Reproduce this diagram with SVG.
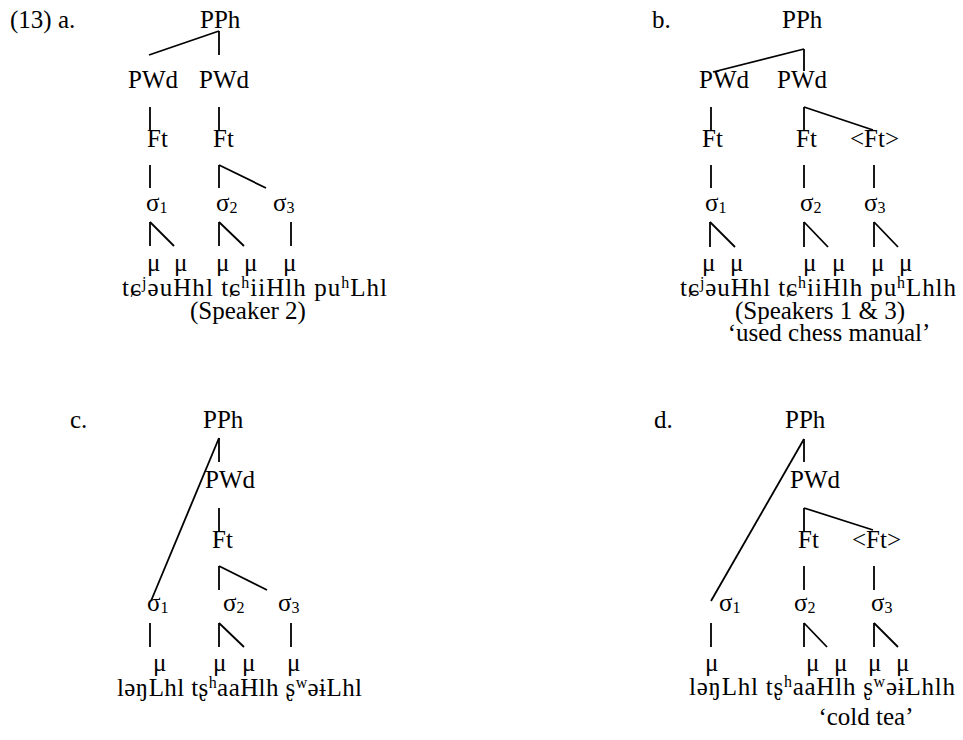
<svg xmlns="http://www.w3.org/2000/svg" width="963" height="740" viewBox="0 0 963 740">
<style>
text{font-family:"Liberation Serif","Times New Roman",serif;font-size:25px;fill:#000}
.s{font-size:16px}
.m{text-anchor:middle}
line{stroke:#000;stroke-width:1.8;fill:none}
</style>
<rect width="963" height="740" fill="#fff"/>
<g id="tree-a">
<text x="10" y="28">(13) a.</text>
<g id="a-pph"><text x="200" y="28">PPh</text></g>
<g id="a-pwd1"><text x="128" y="88">PWd</text></g>
<g id="a-pwd2"><text x="199" y="88">PWd</text></g>
<g id="a-ft1"><text x="147" y="147">Ft</text></g>
<g id="a-ft2"><text x="213" y="147">Ft</text></g>
<g id="a-s1"><text x="146" y="211">σ<tspan class="s" dy="2">1</tspan></text></g>
<g id="a-s2"><text x="216" y="211">σ<tspan class="s" dy="2">2</tspan></text></g>
<g id="a-s3"><text x="273" y="211">σ<tspan class="s" dy="2">3</tspan></text></g>
<g id="a-mu"><text x="147" y="271">μ</text><text x="174" y="271">μ</text><text x="216" y="271">μ</text><text x="244" y="271">μ</text><text x="283" y="271">μ</text></g>
<g id="a-phon"><text x="122" y="296" textLength="265">tɕ<tspan class="s" dy="-8">j</tspan><tspan dy="8">əuHhl tɕ</tspan><tspan class="s" dy="-8">h</tspan><tspan dy="8">iiHlh pu</tspan><tspan class="s" dy="-8">h</tspan><tspan dy="8">Lhl</tspan></text></g>
<g id="a-note"><text class="m" x="248" y="319">(Speaker 2)</text></g>
</g>
<g id="tree-b">
<text x="652" y="28">b.</text>
<g id="b-pph"><text x="782" y="28">PPh</text></g>
<g id="b-pwd1"><text x="699" y="88">PWd</text></g>
<g id="b-pwd2"><text x="777" y="88">PWd</text></g>
<g id="b-ft1"><text x="702" y="147">Ft</text></g>
<g id="b-ft2"><text x="796" y="147">Ft</text></g>
<g id="b-ft3"><text x="850" y="147">&lt;Ft&gt;</text></g>
<g id="b-s1"><text x="705" y="211">σ<tspan class="s" dy="2">1</tspan></text></g>
<g id="b-s2"><text x="800" y="211">σ<tspan class="s" dy="2">2</tspan></text></g>
<g id="b-s3"><text x="864" y="211">σ<tspan class="s" dy="2">3</tspan></text></g>
<g id="b-mu"><text x="702" y="271">μ</text><text x="730" y="271">μ</text><text x="803" y="271">μ</text><text x="832" y="271">μ</text><text x="871" y="271">μ</text><text x="899" y="271">μ</text></g>
<g id="b-phon"><text x="680" y="296" textLength="276">tɕ<tspan class="s" dy="-8">j</tspan><tspan dy="8">əuHhl tɕ</tspan><tspan class="s" dy="-8">h</tspan><tspan dy="8">iiHlh pu</tspan><tspan class="s" dy="-8">h</tspan><tspan dy="8">Lhlh</tspan></text></g>
<g id="b-note"><text class="m" x="820" y="319">(Speakers 1 &amp; 3)</text><text class="m" x="829" y="341">‘used chess manual’</text></g>
</g>
<g id="tree-c">
<text x="70" y="428">c.</text>
<g id="c-pph"><text x="203" y="428">PPh</text></g>
<g id="c-pwd"><text x="205" y="488">PWd</text></g>
<g id="c-ft"><text x="212" y="548">Ft</text></g>
<g id="c-s1"><text x="147" y="611">σ<tspan class="s" dy="2">1</tspan></text></g>
<g id="c-s2"><text x="223" y="611">σ<tspan class="s" dy="2">2</tspan></text></g>
<g id="c-s3"><text x="278" y="611">σ<tspan class="s" dy="2">3</tspan></text></g>
<g id="c-mu"><text x="153" y="671">μ</text><text x="213" y="671">μ</text><text x="242" y="671">μ</text><text x="287" y="671">μ</text></g>
<g id="c-phon"><text x="117" y="696" textLength="245">ləŋLhl tʂ<tspan class="s" dy="-8">h</tspan><tspan dy="8">aaHlh ʂ</tspan><tspan class="s" dy="-8">w</tspan><tspan dy="8">əɨLhl</tspan></text></g>
</g>
<g id="tree-d">
<text x="654" y="428">d.</text>
<g id="d-pph"><text x="785" y="428">PPh</text></g>
<g id="d-pwd"><text x="790" y="488">PWd</text></g>
<g id="d-ft1"><text x="798" y="548">Ft</text></g>
<g id="d-ft2"><text x="852" y="548">&lt;Ft&gt;</text></g>
<g id="d-s1"><text x="719" y="611">σ<tspan class="s" dy="2">1</tspan></text></g>
<g id="d-s2"><text x="794" y="611">σ<tspan class="s" dy="2">2</tspan></text></g>
<g id="d-s3"><text x="871" y="611">σ<tspan class="s" dy="2">3</tspan></text></g>
<g id="d-mu"><text x="705" y="671">μ</text><text x="806" y="671">μ</text><text x="834" y="671">μ</text><text x="868" y="671">μ</text><text x="896" y="671">μ</text></g>
<g id="d-phon"><text x="689" y="695" textLength="266">ləŋLhl tʂ<tspan class="s" dy="-8">h</tspan><tspan dy="8">aaHlh ʂ</tspan><tspan class="s" dy="-8">w</tspan><tspan dy="8">əɨLhlh</tspan></text></g>
<g id="d-note"><text class="m" x="866" y="725">‘cold tea’</text></g>
</g>
<g id="connectors">
<line x1="219" y1="31" x2="219" y2="55"/><line x1="219" y1="31" x2="149" y2="55"/>
<line x1="150" y1="107" x2="150" y2="131"/><line x1="219" y1="107" x2="219" y2="131"/>
<line x1="150" y1="165" x2="150" y2="188"/><line x1="219" y1="165" x2="219" y2="188"/><line x1="219" y1="165" x2="266" y2="188"/>
<line x1="150" y1="222" x2="150" y2="246"/><line x1="150" y1="222" x2="174" y2="246"/><line x1="219" y1="222" x2="219" y2="246"/><line x1="219" y1="222" x2="244" y2="246"/><line x1="291" y1="222" x2="291" y2="246"/>
<line x1="804" y1="49" x2="804" y2="71"/><line x1="804" y1="49" x2="713" y2="72"/>
<line x1="711" y1="107" x2="711" y2="130"/><line x1="804" y1="107" x2="804" y2="131"/><line x1="804" y1="107" x2="873" y2="130"/>
<line x1="711" y1="165" x2="711" y2="188"/><line x1="804" y1="165" x2="804" y2="188"/><line x1="874" y1="165" x2="874" y2="188"/>
<line x1="710" y1="222" x2="710" y2="247"/><line x1="710" y1="222" x2="735" y2="247"/><line x1="804" y1="222" x2="804" y2="247"/><line x1="804" y1="222" x2="828" y2="247"/><line x1="874" y1="222" x2="874" y2="247"/><line x1="874" y1="222" x2="898" y2="247"/>
<line x1="219" y1="438" x2="219" y2="462"/><line x1="219" y1="438" x2="151" y2="601"/>
<line x1="219" y1="508" x2="219" y2="532"/>
<line x1="219" y1="566" x2="219" y2="590"/><line x1="219" y1="566" x2="267" y2="590"/>
<line x1="150" y1="623" x2="150" y2="647"/><line x1="219" y1="623" x2="219" y2="647"/><line x1="219" y1="623" x2="244" y2="647"/><line x1="291" y1="623" x2="291" y2="647"/>
<line x1="804" y1="439" x2="804" y2="462"/><line x1="804" y1="439" x2="711" y2="601"/>
<line x1="804" y1="508" x2="804" y2="532"/><line x1="804" y1="508" x2="873" y2="530"/>
<line x1="804" y1="566" x2="804" y2="590"/><line x1="874" y1="566" x2="874" y2="590"/>
<line x1="711" y1="623" x2="711" y2="647"/><line x1="804" y1="623" x2="804" y2="647"/><line x1="804" y1="623" x2="827" y2="647"/><line x1="874" y1="623" x2="874" y2="647"/><line x1="874" y1="623" x2="898" y2="647"/>
</g>
</svg>
